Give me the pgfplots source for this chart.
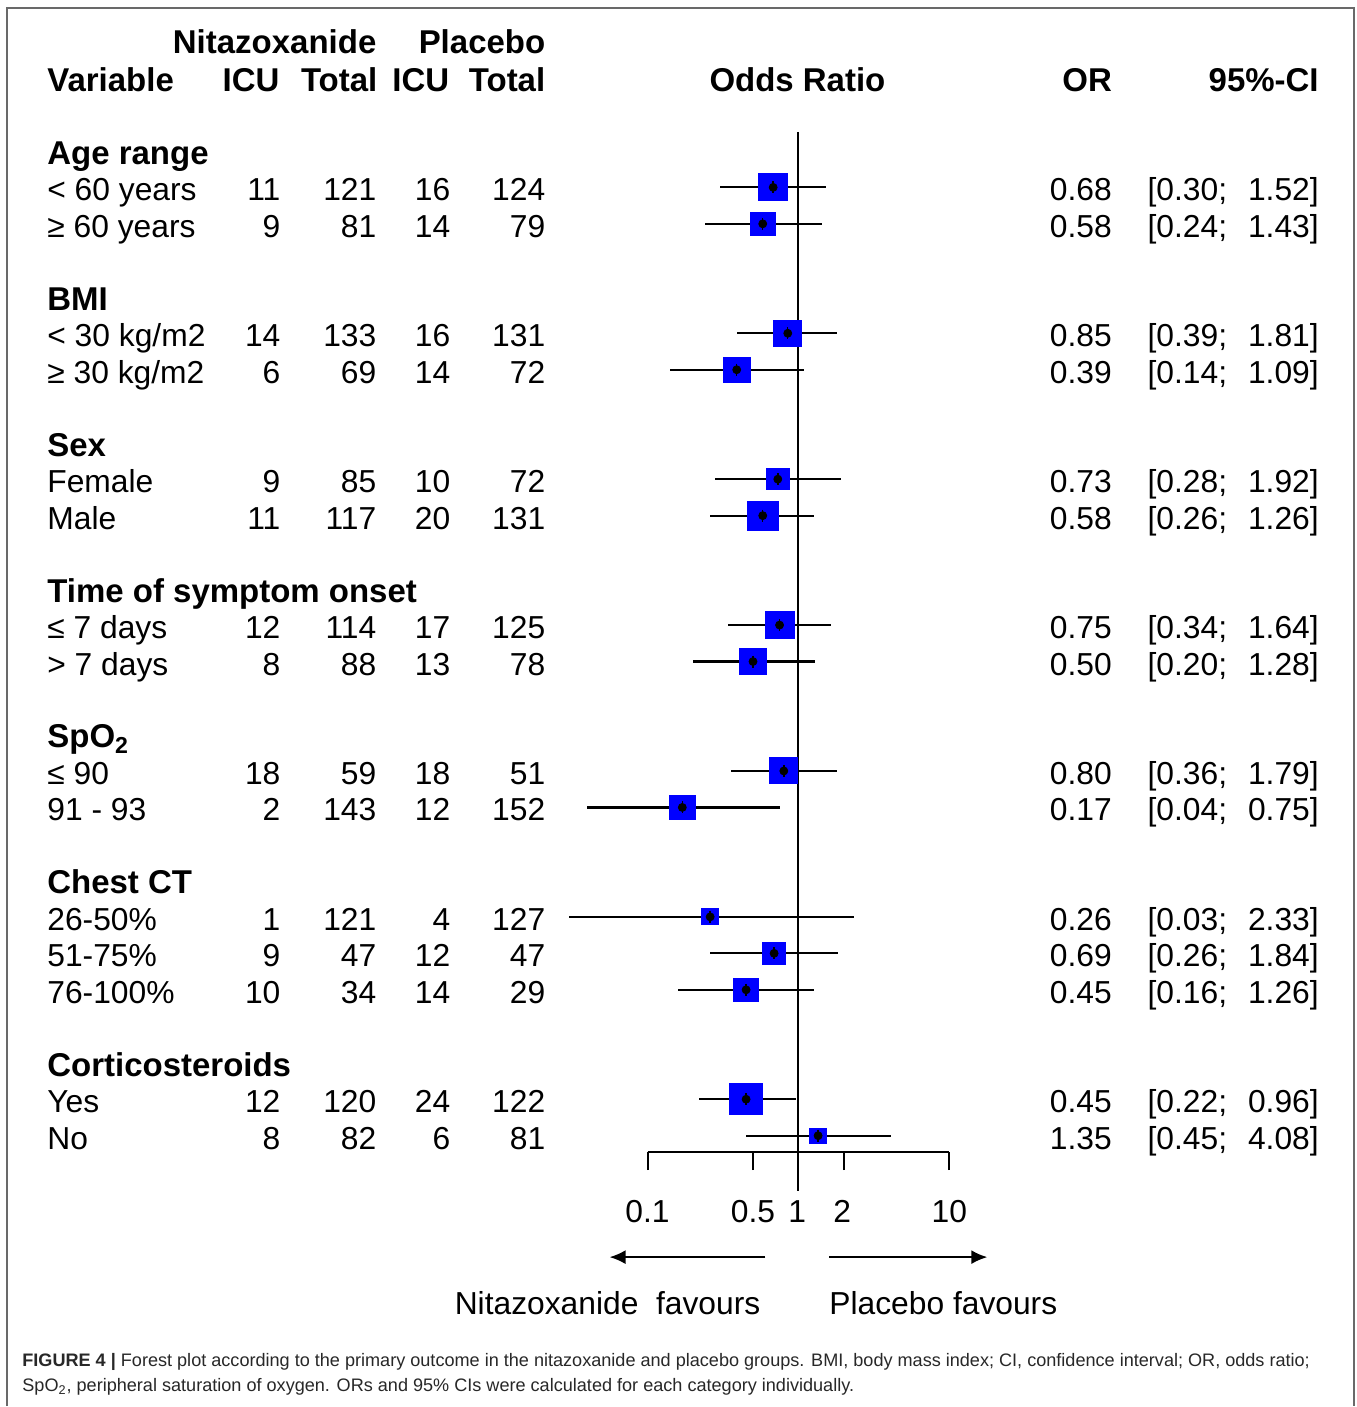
\documentclass[border=0pt]{standalone}
\usepackage{pgfplots}
\pgfplotsset{compat=1.18}
\usepackage{pgfplotstable}
\usepackage{fontspec}
\setmainfont{Liberation Sans}
\usetikzlibrary{arrows.meta}
\definecolor{framegray}{RGB}{105,105,105}
\definecolor{capgray}{RGB}{40,40,40}
\definecolor{sqblue}{RGB}{0,0,255}

\newcommand\fs{\fontsize{15.9}{19}\selectfont}
\newcommand\fsb{\fontsize{16.5}{19}\selectfont\bfseries}

\pgfplotstableread{
r or lo hi w
1 0.68 0.30 1.52 29
2 0.58 0.24 1.43 25
5 0.85 0.39 1.81 28
6 0.39 0.14 1.09 27
9 0.73 0.28 1.92 23
10 0.58 0.26 1.26 31
13 0.75 0.34 1.64 29
14 0.50 0.20 1.28 27
17 0.80 0.36 1.79 28
18 0.17 0.04 0.75 26
21 0.26 0.03 2.33 17
22 0.69 0.26 1.84 23
23 0.45 0.16 1.26 25
26 0.45 0.22 0.96 33
27 1.35 0.45 4.08 16.5
}\ordata

\newcommand\drow[9]{%
 \node[anchor=base west] at (47,{164.5+36.5*#1}) {#2};
 \node[anchor=base east] at (281,{164.5+36.5*#1}) {#3};
 \node[anchor=base east] at (377,{164.5+36.5*#1}) {#4};
 \node[anchor=base east] at (451,{164.5+36.5*#1}) {#5};
 \node[anchor=base east] at (546,{164.5+36.5*#1}) {#6};
 \node[anchor=base east] at (1113,{164.5+36.5*#1}) {#7};
 \node[anchor=base west] at (1148,{164.5+36.5*#1}) {[#8;};
 \node[anchor=base east] at (1320,{164.5+36.5*#1}) {#9]};
}
\newcommand\hd[2]{\node[anchor=base west] at (47,{164.5+36.5*#1}) {\fsb #2};}

\begin{document}
\begin{tikzpicture}[x=0.5pt,y=-0.5pt,font=\fs,every node/.style={inner sep=0pt}]
\fill[white] (0,0) rectangle (1357,1407);
\draw[line width=1pt, framegray] (7,1407) -- (7,8) -- (1355,8) -- (1355,1407);

\begin{axis}[
  at={(399.5pt,-321.25pt)}, anchor=center,
  scale only axis, width=151pt, height=510.5pt,
  xmode=log, xmin=0.1, xmax=10,
  ymin=-27.452, ymax=0.5205,
  enlargelimits=false, clip=false,
  axis x line=bottom, axis y line=none,
  x axis line style={-, line width=1pt, black},
  xtick={0.1,0.5,1,2,10}, xticklabels={}, ytick=\empty,
  minor xtick={},
  tick align=outside, major tick length=9pt,
  every tick/.style={black, line width=1pt},
  xtick pos=bottom,
]
% weighted squares
\addplot[scatter, only marks, mark=square*,
  point meta=\thisrow{w},
  visualization depends on={\thisrow{w} \as \wpx},
  scatter/use mapped color={draw=sqblue, fill=sqblue},
  scatter/@pre marker code/.append style={/tikz/mark size=0.25*\wpx},
  mark options={yscale=0.93, line width=0pt}]
  table[x=or, y expr=-\thisrow{r}] {\ordata};
% confidence intervals
\addplot[only marks, mark=none, forget plot,
  error bars/.cd, x dir=both, x explicit, error mark=none,
  error bar style={line width=1.1pt, black}]
  table[x=or, y expr=-\thisrow{r},
        x error plus expr=\thisrow{hi}-\thisrow{or},
        x error minus expr=\thisrow{or}-\thisrow{lo}] {\ordata};
% centre marks
\addplot[only marks, mark=|, mark size=3pt, mark options={draw=black, line width=0.7pt}]
  table[x=or, y expr=-\thisrow{r}] {\ordata};
% line of no effect
\addplot[black, line width=1pt] coordinates {(1,0.5205) (1,-28.52)};
% tick labels
\node[anchor=base] at (axis cs:0.1,-29.38) {0.1};
\node[anchor=base] at (axis cs:0.5,-29.38) {0.5};
\node[anchor=base] at (axis cs:0.98,-29.38) {1};
\node[anchor=base] at (axis cs:1.95,-29.38) {2};
\node[anchor=base] at (axis cs:10,-29.38) {10};
\end{axis}

% header
\node[anchor=base east] at (377,54) {\fsb Nitazoxanide};
\node[anchor=base east] at (546,54) {\fsb Placebo};
\node[anchor=base west] at (47,92) {\fsb Variable};
\node[anchor=base east] at (280,92) {\fsb ICU};
\node[anchor=base east] at (378,92) {\fsb Total};
\node[anchor=base east] at (450,92) {\fsb ICU};
\node[anchor=base east] at (546,92) {\fsb Total};
\node[anchor=base] at (798,92) {\fsb Odds Ratio};
\node[anchor=base east] at (1113,92) {\fsb OR};
\node[anchor=base east] at (1320,92) {\fsb 95\%-CI};

\hd{0}{Age range}
\drow{1}{< 60 years}{11}{121}{16}{124}{0.68}{0.30}{1.52}
\drow{2}{≥ 60 years}{9}{81}{14}{79}{0.58}{0.24}{1.43}
\hd{4}{BMI}
\drow{5}{< 30 kg/m2}{14}{133}{16}{131}{0.85}{0.39}{1.81}
\drow{6}{≥ 30 kg/m2}{6}{69}{14}{72}{0.39}{0.14}{1.09}
\hd{8}{Sex}
\drow{9}{Female}{9}{85}{10}{72}{0.73}{0.28}{1.92}
\drow{10}{Male}{11}{117}{20}{131}{0.58}{0.26}{1.26}
\hd{12}{Time of symptom onset}
\drow{13}{≤ 7 days}{12}{114}{17}{125}{0.75}{0.34}{1.64}
\drow{14}{> 7 days}{8}{88}{13}{78}{0.50}{0.20}{1.28}
\hd{16}{SpO\textsubscript{2}}
\drow{17}{≤ 90}{18}{59}{18}{51}{0.80}{0.36}{1.79}
\drow{18}{91 - 93}{2}{143}{12}{152}{0.17}{0.04}{0.75}
\hd{20}{Chest CT}
\drow{21}{26-50\%}{1}{121}{4}{127}{0.26}{0.03}{2.33}
\drow{22}{51-75\%}{9}{47}{12}{47}{0.69}{0.26}{1.84}
\drow{23}{76-100\%}{10}{34}{14}{29}{0.45}{0.16}{1.26}
\hd{25}{Corticosteroids}
\drow{26}{Yes}{12}{120}{24}{122}{0.45}{0.22}{0.96}
\drow{27}{No}{8}{82}{6}{81}{1.35}{0.45}{4.08}

% favour arrows
\draw[line width=1pt, -{Latex[length=8pt,width=7pt]}] (766,1258) -- (610,1258);
\draw[line width=1pt, -{Latex[length=8pt,width=7pt]}] (830,1258) -- (988,1258);
\node[anchor=base] at (608,1315.5) {Nitazoxanide\ \ favours};
\node[anchor=base] at (944,1315.5) {Placebo favours};

% caption
\node[anchor=base west, text=capgray, font=\fontsize{9.05}{10}\selectfont] at (22,1367.5)
 {\textbf{FIGURE 4 |} Forest plot according to the primary outcome in the nitazoxanide and placebo groups. BMI, body mass index; CI, confidence interval; OR, odds ratio;};
\node[anchor=base west, text=capgray, font=\fontsize{9.05}{10}\selectfont] at (22,1392.5)
 {SpO\textsubscript{2}, peripheral saturation of oxygen. ORs and 95\% CIs were calculated for each category individually.};
\end{tikzpicture}
\end{document}
